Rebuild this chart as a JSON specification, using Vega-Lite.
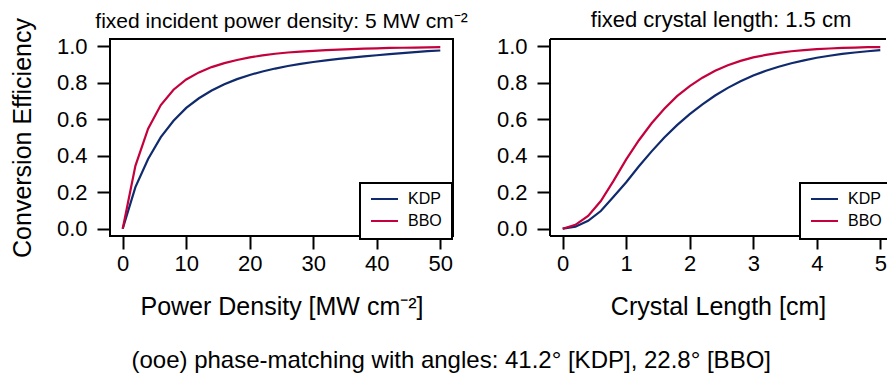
{
  "$schema": "https://vega.github.io/schema/vega-lite/v6.json",
  "padding": {"left": 9, "top": 9, "right": 0, "bottom": 0},
  "background": "white",
  "config": {
    "font": "Liberation Sans",
    "axis": {"labelFont": "Liberation Sans", "titleFont": "Liberation Sans", "labelColor": "black", "titleColor": "black", "tickColor": "black", "tickWidth": 2, "tickSize": 13, "grid": false, "labelFontSize": 22, "titleFontSize": 25, "titleFontWeight": "normal", "domain": false, "labelOverlap": false},
    "legend": {"orient": "none", "legendX": 250, "legendY": 144, "title": null, "strokeColor": "black", "strokeWidth": 2, "fillColor": "white", "padding": 10, "symbolType": "stroke", "symbolSize": 729, "symbolStrokeWidth": 2, "labelFontSize": 16, "labelFont": "Liberation Sans", "labelColor": "black", "labelOffset": 9, "clipHeight": 12, "rowPadding": 6},
    "title": {"fontWeight": "normal", "color": "black", "font": "Liberation Sans"}
  },
  "datasets": {
    "power": [
      {"I": 0, "material": "KDP", "eff": 0}, {"I": 2, "material": "KDP", "eff": 0.228}, {"I": 4, "material": "KDP", "eff": 0.382}, {"I": 6, "material": "KDP", "eff": 0.502}, {"I": 8, "material": "KDP", "eff": 0.592}, {"I": 10, "material": "KDP", "eff": 0.662}, {"I": 12, "material": "KDP", "eff": 0.715}, {"I": 14, "material": "KDP", "eff": 0.758}, {"I": 16, "material": "KDP", "eff": 0.792}, {"I": 18, "material": "KDP", "eff": 0.82}, {"I": 20, "material": "KDP", "eff": 0.843}, {"I": 22, "material": "KDP", "eff": 0.862}, {"I": 24, "material": "KDP", "eff": 0.878}, {"I": 26, "material": "KDP", "eff": 0.892}, {"I": 28, "material": "KDP", "eff": 0.904}, {"I": 30, "material": "KDP", "eff": 0.914}, {"I": 32, "material": "KDP", "eff": 0.923}, {"I": 34, "material": "KDP", "eff": 0.931}, {"I": 36, "material": "KDP", "eff": 0.938}, {"I": 38, "material": "KDP", "eff": 0.945}, {"I": 40, "material": "KDP", "eff": 0.951}, {"I": 42, "material": "KDP", "eff": 0.957}, {"I": 44, "material": "KDP", "eff": 0.963}, {"I": 46, "material": "KDP", "eff": 0.968}, {"I": 48, "material": "KDP", "eff": 0.973}, {"I": 50, "material": "KDP", "eff": 0.977},
      {"I": 0, "material": "BBO", "eff": 0}, {"I": 2, "material": "BBO", "eff": 0.345}, {"I": 4, "material": "BBO", "eff": 0.548}, {"I": 6, "material": "BBO", "eff": 0.678}, {"I": 8, "material": "BBO", "eff": 0.762}, {"I": 10, "material": "BBO", "eff": 0.818}, {"I": 12, "material": "BBO", "eff": 0.857}, {"I": 14, "material": "BBO", "eff": 0.886}, {"I": 16, "material": "BBO", "eff": 0.908}, {"I": 18, "material": "BBO", "eff": 0.925}, {"I": 20, "material": "BBO", "eff": 0.939}, {"I": 22, "material": "BBO", "eff": 0.95}, {"I": 24, "material": "BBO", "eff": 0.959}, {"I": 26, "material": "BBO", "eff": 0.966}, {"I": 28, "material": "BBO", "eff": 0.971}, {"I": 30, "material": "BBO", "eff": 0.975}, {"I": 32, "material": "BBO", "eff": 0.979}, {"I": 34, "material": "BBO", "eff": 0.982}, {"I": 36, "material": "BBO", "eff": 0.985}, {"I": 38, "material": "BBO", "eff": 0.987}, {"I": 40, "material": "BBO", "eff": 0.989}, {"I": 42, "material": "BBO", "eff": 0.991}, {"I": 44, "material": "BBO", "eff": 0.992}, {"I": 46, "material": "BBO", "eff": 0.993}, {"I": 48, "material": "BBO", "eff": 0.994}, {"I": 50, "material": "BBO", "eff": 0.995}
    ],
    "length": [
      {"L": 0, "material": "KDP", "eff": 0}, {"L": 0.2, "material": "KDP", "eff": 0.011}, {"L": 0.4, "material": "KDP", "eff": 0.043}, {"L": 0.6, "material": "KDP", "eff": 0.097}, {"L": 0.8, "material": "KDP", "eff": 0.175}, {"L": 1.0, "material": "KDP", "eff": 0.255}, {"L": 1.2, "material": "KDP", "eff": 0.342}, {"L": 1.4, "material": "KDP", "eff": 0.424}, {"L": 1.6, "material": "KDP", "eff": 0.5}, {"L": 1.8, "material": "KDP", "eff": 0.568}, {"L": 2.0, "material": "KDP", "eff": 0.628}, {"L": 2.2, "material": "KDP", "eff": 0.682}, {"L": 2.4, "material": "KDP", "eff": 0.73}, {"L": 2.6, "material": "KDP", "eff": 0.772}, {"L": 2.8, "material": "KDP", "eff": 0.808}, {"L": 3.0, "material": "KDP", "eff": 0.84}, {"L": 3.2, "material": "KDP", "eff": 0.866}, {"L": 3.4, "material": "KDP", "eff": 0.888}, {"L": 3.6, "material": "KDP", "eff": 0.907}, {"L": 3.8, "material": "KDP", "eff": 0.923}, {"L": 4.0, "material": "KDP", "eff": 0.937}, {"L": 4.2, "material": "KDP", "eff": 0.948}, {"L": 4.4, "material": "KDP", "eff": 0.958}, {"L": 4.6, "material": "KDP", "eff": 0.966}, {"L": 4.8, "material": "KDP", "eff": 0.973}, {"L": 5.0, "material": "KDP", "eff": 0.979},
      {"L": 0, "material": "BBO", "eff": 0}, {"L": 0.2, "material": "BBO", "eff": 0.021}, {"L": 0.4, "material": "BBO", "eff": 0.07}, {"L": 0.6, "material": "BBO", "eff": 0.152}, {"L": 0.8, "material": "BBO", "eff": 0.262}, {"L": 1.0, "material": "BBO", "eff": 0.38}, {"L": 1.2, "material": "BBO", "eff": 0.485}, {"L": 1.4, "material": "BBO", "eff": 0.578}, {"L": 1.6, "material": "BBO", "eff": 0.658}, {"L": 1.8, "material": "BBO", "eff": 0.727}, {"L": 2.0, "material": "BBO", "eff": 0.782}, {"L": 2.2, "material": "BBO", "eff": 0.828}, {"L": 2.4, "material": "BBO", "eff": 0.866}, {"L": 2.6, "material": "BBO", "eff": 0.896}, {"L": 2.8, "material": "BBO", "eff": 0.92}, {"L": 3.0, "material": "BBO", "eff": 0.939}, {"L": 3.2, "material": "BBO", "eff": 0.953}, {"L": 3.4, "material": "BBO", "eff": 0.964}, {"L": 3.6, "material": "BBO", "eff": 0.973}, {"L": 3.8, "material": "BBO", "eff": 0.979}, {"L": 4.0, "material": "BBO", "eff": 0.984}, {"L": 4.2, "material": "BBO", "eff": 0.988}, {"L": 4.4, "material": "BBO", "eff": 0.991}, {"L": 4.6, "material": "BBO", "eff": 0.993}, {"L": 4.8, "material": "BBO", "eff": 0.995}, {"L": 5.0, "material": "BBO", "eff": 0.996}
    ]
  },
  "title": {"text": "(ooe) phase-matching with angles: 41.2° [KDP], 22.8° [BBO]", "orient": "bottom", "anchor": "middle", "fontSize": 24, "offset": 29},
  "spacing": 97,
  "bounds": "flush",
  "resolve": {"scale": {"color": "independent"}, "legend": {"color": "independent"}},
  "hconcat": [
    {
      "width": 343,
      "height": 197,
      "view": {"stroke": "black", "strokeWidth": 2},
      "title": {"text": "fixed incident power density: 5 MW cm⁻²", "fontSize": 21, "offset": -14},
      "data": {"name": "power"},
      "mark": {"type": "line", "strokeWidth": 2.2},
      "encoding": {
        "x": {"field": "I", "type": "quantitative", "scale": {"domain": [-2, 52], "nice": false, "zero": false}, "axis": {"values": [0, 10, 20, 30, 40, 50], "title": "Power Density [MW cm⁻²]", "labelPadding": 4, "titlePadding": 20}},
        "y": {"field": "eff", "type": "quantitative", "scale": {"domain": [-0.04, 1.04], "nice": false, "zero": false}, "axis": {"values": [0, 0.2, 0.4, 0.6, 0.8, 1], "format": ".1f", "title": "Conversion Efficiency", "labelPadding": 10, "titlePadding": 21}},
        "color": {"field": "material", "type": "nominal", "scale": {"domain": ["KDP", "BBO"], "range": ["#102a6e", "#c4003d"]}, "legend": {"orient": "none", "legendX": 250, "legendY": 144}}
      }
    },
    {
      "width": 336,
      "height": 197,
      "view": {"stroke": null},
      "title": {"text": "fixed crystal length: 1.5 cm", "fontSize": 22, "offset": 3, "dx": 3},
      "layer": [
        {
          "data": {"name": "length"},
          "mark": {"type": "line", "strokeWidth": 2.2},
          "encoding": {
            "x": {"field": "L", "type": "quantitative", "scale": {"domain": [-0.2, 5.09], "nice": false, "zero": false}, "axis": {"values": [0, 1, 2, 3, 4, 5], "title": "Crystal Length [cm]", "labelPadding": 4, "titlePadding": 20}},
            "y": {"field": "eff", "type": "quantitative", "scale": {"domain": [-0.04, 1.04], "nice": false, "zero": false}, "axis": {"values": [0, 0.2, 0.4, 0.6, 0.8, 1], "format": ".1f", "title": null, "labelPadding": 10}},
            "color": {"field": "material", "type": "nominal", "scale": {"domain": ["KDP", "BBO"], "range": ["#102a6e", "#c4003d"]}, "legend": {"orient": "none", "legendX": 250, "legendY": 144}}
          }
        },
        {
          "data": {"values": [{"eff": 1.04}, {"eff": -0.04}]},
          "mark": {"type": "rule", "strokeWidth": 2, "color": "black"},
          "encoding": {"y": {"field": "eff", "type": "quantitative", "scale": {"domain": [-0.04, 1.04], "nice": false, "zero": false}, "axis": {"values": [0, 0.2, 0.4, 0.6, 0.8, 1], "format": ".1f", "title": null, "labelPadding": 10}}}
        },
        {
          "data": {"values": [{"L": -0.2}]},
          "mark": {"type": "rule", "strokeWidth": 2, "color": "black"},
          "encoding": {"x": {"field": "L", "type": "quantitative", "scale": {"domain": [-0.2, 5.09], "nice": false, "zero": false}, "axis": {"values": [0, 1, 2, 3, 4, 5], "title": "Crystal Length [cm]", "labelPadding": 4, "titlePadding": 20}}}
        }
      ]
    }
  ]
}
